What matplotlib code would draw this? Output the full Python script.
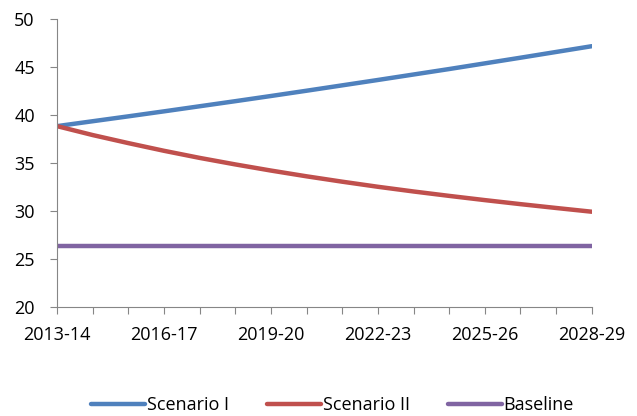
import matplotlib.pyplot as plt

# Datos
years = ['2013-14', '2014-15', '2015-16', '2016-17', '2017-18', '2018-19', '2019-20', '2020-21',
         '2021-22', '2022-23', '2023-24', '2024-25', '2025-26', '2026-27', '2027-28', '2028-29']
scenario_1 = [38.85, 39.36, 39.87, 40.39, 40.92, 41.45, 41.99, 42.54,
              43.10, 43.66, 44.23, 44.80, 45.39, 45.98, 46.58, 47.18]
scenario_2 = [38.85, 37.92, 37.08, 36.28, 35.54, 34.86, 34.22, 33.62,
              33.06, 32.53, 32.04, 31.58, 31.14, 30.72, 30.32, 29.93]
baseline = [26.4] * 16

plt.rcParams['font.family'] = ['Open Sans', 'DejaVu Sans']

fig = plt.figure(figsize=(6.37, 4.16), dpi=100)
ax = fig.add_axes([0.0895, 0.262, 0.8395, 0.692])

x = range(len(years))
ax.plot(x, scenario_1, color='#4F81BD', lw=3.2, solid_capstyle='round', label='Scenario I')
ax.plot(x, scenario_2, color='#C0504D', lw=3.2, solid_capstyle='round', label='Scenario II')
ax.plot(x, baseline, color='#8064A2', lw=3.2, solid_capstyle='round', label='Baseline')

ax.set_xlim(0, 15)
ax.set_ylim(20, 50)
ax.set_yticks(range(20, 51, 5))
ax.set_xticks(list(x))
ax.set_xticklabels([y if i % 3 == 0 else '' for i, y in enumerate(years)])

for s in ['top', 'right']:
    ax.spines[s].set_visible(False)
for s in ['left', 'bottom']:
    ax.spines[s].set_color('#868686')
ax.tick_params(colors='#868686', labelcolor='black', labelsize=13, length=5)
ax.tick_params(axis='x', pad=9)
ax.tick_params(axis='y', pad=11)

fig.legend(*ax.get_legend_handles_labels(), loc='center', bbox_to_anchor=(332.5 / 637, 1 - 405 / 416),
           ncol=3, frameon=False, fontsize=13, handlelength=3.0, handletextpad=0.1,
           columnspacing=2.1, borderpad=0, borderaxespad=0)

plt.savefig('out.png', dpi=100)
